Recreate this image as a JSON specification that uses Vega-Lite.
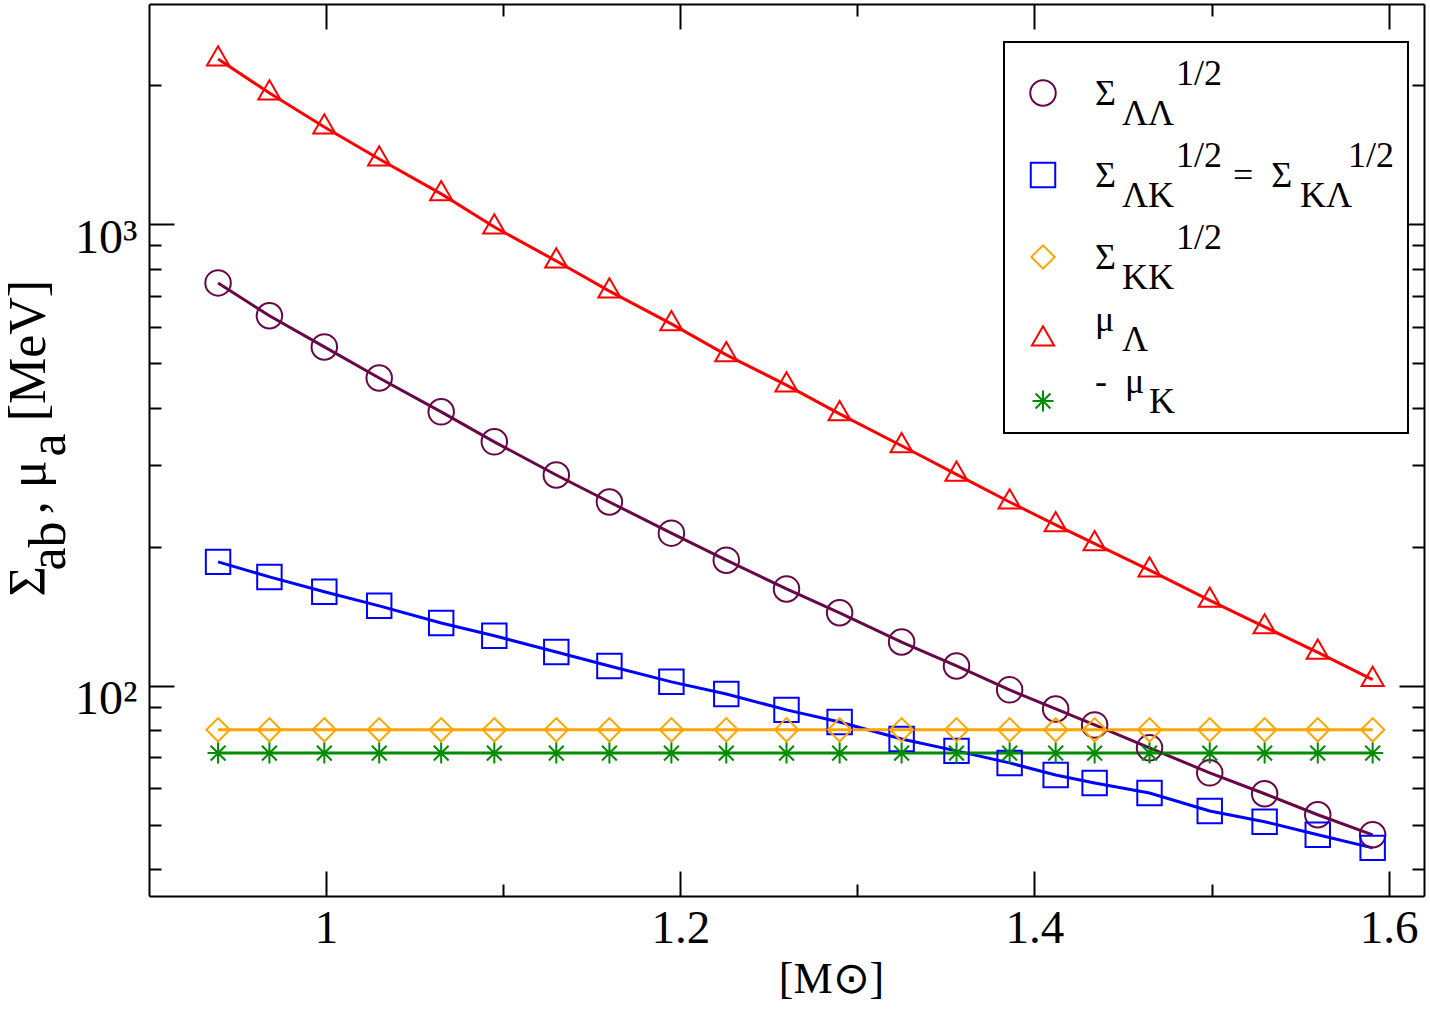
{
  "$schema": "https://vega.github.io/schema/vega-lite/v6.json",
  "width": 1275,
  "height": 892,
  "autosize": {"type": "none"},
  "padding": {"left": 149, "top": 4, "right": 6, "bottom": 117},
  "background": "white",
  "config": {
    "view": {"stroke": null},
    "style": {"guide-label": {"lineHeight": 20}},
    "axis": {
      "grid": false,
      "domainColor": "black",
      "domainWidth": 2,
      "tickColor": "black",
      "tickWidth": 2,
      "labelFont": "Liberation Serif",
      "titleFont": "Liberation Serif",
      "labelColor": "black",
      "titleColor": "black",
      "titleFontWeight": "normal",
      "labelFlush": false,
      "labelOverlap": false,
      "labelBound": false
    },
    "legend": {
      "strokeColor": "black",
      "strokeWidth": 2,
      "fillColor": "white",
      "padding": 13,
      "titleFontSize": 12,
      "titlePadding": 8,
      "labelFont": "Liberation Serif",
      "labelFontSize": 36,
      "labelColor": "black",
      "labelBaseline": "bottom",
      "labelLimit": 2000,
      "symbolStrokeWidth": 2,
      "symbolOffset": 8,
      "labelOffset": 34,
      "rowPadding": 6
    }
  },
  "data": {
    "values": [
      {"s": "LL", "m": 0.939, "v": 746}, {"s": "LL", "m": 0.968, "v": 633}, {"s": "LL", "m": 0.999, "v": 542}, {"s": "LL", "m": 1.03, "v": 464}, {"s": "LL", "m": 1.065, "v": 392}, {"s": "LL", "m": 1.095, "v": 337.5}, {"s": "LL", "m": 1.13, "v": 286}, {"s": "LL", "m": 1.16, "v": 250}, {"s": "LL", "m": 1.195, "v": 214}, {"s": "LL", "m": 1.226, "v": 187}, {"s": "LL", "m": 1.26, "v": 162}, {"s": "LL", "m": 1.29, "v": 143.8}, {"s": "LL", "m": 1.325, "v": 124.3}, {"s": "LL", "m": 1.356, "v": 110.3}, {"s": "LL", "m": 1.386, "v": 97.9}, {"s": "LL", "m": 1.412, "v": 89}, {"s": "LL", "m": 1.434, "v": 82.2}, {"s": "LL", "m": 1.465, "v": 73.3}, {"s": "LL", "m": 1.499, "v": 64.7}, {"s": "LL", "m": 1.53, "v": 58.3}, {"s": "LL", "m": 1.56, "v": 52.5}, {"s": "LL", "m": 1.591, "v": 47.5},
      {"s": "LK", "m": 0.939, "v": 185.4}, {"s": "LK", "m": 0.968, "v": 172}, {"s": "LK", "m": 0.999, "v": 159.7}, {"s": "LK", "m": 1.03, "v": 148.9}, {"s": "LK", "m": 1.065, "v": 136.7}, {"s": "LK", "m": 1.095, "v": 128.2}, {"s": "LK", "m": 1.13, "v": 118.3}, {"s": "LK", "m": 1.16, "v": 110.3}, {"s": "LK", "m": 1.195, "v": 101.9}, {"s": "LK", "m": 1.226, "v": 95.9}, {"s": "LK", "m": 1.26, "v": 88.6}, {"s": "LK", "m": 1.29, "v": 83.4}, {"s": "LK", "m": 1.325, "v": 76.6}, {"s": "LK", "m": 1.356, "v": 72.2}, {"s": "LK", "m": 1.386, "v": 68}, {"s": "LK", "m": 1.412, "v": 64}, {"s": "LK", "m": 1.434, "v": 61.5}, {"s": "LK", "m": 1.465, "v": 58.5}, {"s": "LK", "m": 1.499, "v": 53.5}, {"s": "LK", "m": 1.53, "v": 50.7}, {"s": "LK", "m": 1.56, "v": 47.5}, {"s": "LK", "m": 1.591, "v": 44.5},
      {"s": "KK", "m": 0.939, "v": 80.2}, {"s": "KK", "m": 0.968, "v": 80.2}, {"s": "KK", "m": 0.999, "v": 80.2}, {"s": "KK", "m": 1.03, "v": 80.2}, {"s": "KK", "m": 1.065, "v": 80.2}, {"s": "KK", "m": 1.095, "v": 80.2}, {"s": "KK", "m": 1.13, "v": 80.2}, {"s": "KK", "m": 1.16, "v": 80.2}, {"s": "KK", "m": 1.195, "v": 80.2}, {"s": "KK", "m": 1.226, "v": 80.2}, {"s": "KK", "m": 1.26, "v": 80.2}, {"s": "KK", "m": 1.29, "v": 80.2}, {"s": "KK", "m": 1.325, "v": 80.2}, {"s": "KK", "m": 1.356, "v": 80.2}, {"s": "KK", "m": 1.386, "v": 80.2}, {"s": "KK", "m": 1.412, "v": 80.2}, {"s": "KK", "m": 1.434, "v": 80.2}, {"s": "KK", "m": 1.465, "v": 80.2}, {"s": "KK", "m": 1.499, "v": 80.2}, {"s": "KK", "m": 1.53, "v": 80.2}, {"s": "KK", "m": 1.56, "v": 80.2}, {"s": "KK", "m": 1.591, "v": 80.2},
      {"s": "mL", "m": 0.939, "v": 2280}, {"s": "mL", "m": 0.968, "v": 1924}, {"s": "mL", "m": 0.999, "v": 1624}, {"s": "mL", "m": 1.03, "v": 1384}, {"s": "mL", "m": 1.065, "v": 1163}, {"s": "mL", "m": 1.095, "v": 986}, {"s": "mL", "m": 1.13, "v": 832}, {"s": "mL", "m": 1.16, "v": 716}, {"s": "mL", "m": 1.195, "v": 608}, {"s": "mL", "m": 1.226, "v": 521}, {"s": "mL", "m": 1.26, "v": 448}, {"s": "mL", "m": 1.29, "v": 388}, {"s": "mL", "m": 1.325, "v": 331}, {"s": "mL", "m": 1.356, "v": 287}, {"s": "mL", "m": 1.386, "v": 250}, {"s": "mL", "m": 1.412, "v": 223}, {"s": "mL", "m": 1.434, "v": 203}, {"s": "mL", "m": 1.465, "v": 178}, {"s": "mL", "m": 1.499, "v": 153}, {"s": "mL", "m": 1.53, "v": 134}, {"s": "mL", "m": 1.56, "v": 118}, {"s": "mL", "m": 1.591, "v": 103},
      {"s": "mK", "m": 0.939, "v": 71.4}, {"s": "mK", "m": 0.968, "v": 71.4}, {"s": "mK", "m": 0.999, "v": 71.4}, {"s": "mK", "m": 1.03, "v": 71.4}, {"s": "mK", "m": 1.065, "v": 71.4}, {"s": "mK", "m": 1.095, "v": 71.4}, {"s": "mK", "m": 1.13, "v": 71.4}, {"s": "mK", "m": 1.16, "v": 71.4}, {"s": "mK", "m": 1.195, "v": 71.4}, {"s": "mK", "m": 1.226, "v": 71.4}, {"s": "mK", "m": 1.26, "v": 71.4}, {"s": "mK", "m": 1.29, "v": 71.4}, {"s": "mK", "m": 1.325, "v": 71.4}, {"s": "mK", "m": 1.356, "v": 71.4}, {"s": "mK", "m": 1.386, "v": 71.4}, {"s": "mK", "m": 1.412, "v": 71.4}, {"s": "mK", "m": 1.434, "v": 71.4}, {"s": "mK", "m": 1.465, "v": 71.4}, {"s": "mK", "m": 1.499, "v": 71.4}, {"s": "mK", "m": 1.53, "v": 71.4}, {"s": "mK", "m": 1.56, "v": 71.4}, {"s": "mK", "m": 1.591, "v": 71.4}
    ]
  },
  "layer": [
    {
      "mark": {"type": "line", "strokeWidth": 3},
      "encoding": {
        "x": {
          "field": "m", "type": "quantitative",
          "scale": {"domain": [0.9, 1.62], "nice": false, "zero": false},
          "axis": {
            "orient": "bottom",
            "values": [1, 1.1, 1.2, 1.3, 1.4, 1.5, 1.6],
            "tickSize": {"condition": {"test": "datum.value == 1 || datum.value == 1.2 || datum.value == 1.4 || datum.value == 1.6", "value": -25}, "value": -12},
            "labelExpr": "datum.value == 1 ? '1' : datum.value == 1.2 ? '1.2' : datum.value == 1.4 ? '1.4' : datum.value == 1.6 ? '1.6' : ''",
            "labelFontSize": 47,
            "labelPadding": 34,
            "title": "[M⊙]",
            "titleFontSize": 44,
            "titleX": 682,
            "titleY": 96,
            "titleBaseline": "alphabetic",
            "titleAlign": "center"
          }
        },
        "y": {
          "field": "v", "type": "quantitative",
          "scale": {"type": "log", "domain": [35, 3000], "nice": false},
          "axis": {
            "orient": "left",
            "values": [40, 50, 60, 70, 80, 90, 100, 200, 300, 400, 500, 600, 700, 800, 900, 1000, 2000],
            "tickSize": {"condition": {"test": "datum.value == 100 || datum.value == 1000", "value": -25}, "value": -12},
            "labelExpr": "datum.value == 100 ? '10²' : datum.value == 1000 ? '10³' : ''",
            "labelFontSize": 48,
            "labelPadding": 37,
            "labelOffset": 14,
            "title": ["Σ\u00a0\u00a0\u00a0\u00a0,\u00a0μ\u00a0\u00a0\u00a0[MeV]", "\u200b\u00a0\u00a0ab\u00a0\u00a0\u00a0\u00a0\u00a0a"],
            "titleFontSize": 52,
            "titleLineHeight": 20,
            "titleAngle": -90,
            "titleAlign": "left",
            "titleBaseline": "top",
            "titleX": -146,
            "titleY": 592
          }
        },
        "color": {
          "field": "s", "type": "nominal",
          "scale": {"domain": ["LL", "LK", "KK", "mL", "mK"], "range": ["#670748", "#0000ff", "#ffa500", "#ff0000", "#008b00"]},
          "legend": {
            "orient": "none", "legendX": 855, "legendY": 38, "title": "\u200b",
            "labelExpr": "datum.label == 'LL' ? ['\u200b\u00a0\u00a0\u00a0\u00a0\u00a0\u00a0\u00a0\u00a0\u00a01/2', 'Σ', '\u200b\u00a0\u00a0\u00a0ΛΛ'] : datum.label == 'LK' ? ['\u200b\u00a0\u00a0\u00a0\u00a0\u00a0\u00a0\u00a0\u00a0\u00a01/2\u00a0\u00a0\u00a0\u00a0\u00a0\u00a0\u00a0\u00a0\u00a0\u00a0\u00a0\u00a0\u00a0\u00a01/2', 'Σ\u00a0\u00a0\u00a0\u00a0\u00a0\u00a0\u00a0\u00a0\u00a0\u00a0\u00a0\u00a0\u00a0=\u00a0\u00a0Σ', '\u200b\u00a0\u00a0\u00a0ΛK\u00a0\u00a0\u00a0\u00a0\u00a0\u00a0\u00a0\u00a0\u00a0\u00a0\u00a0\u00a0\u00a0\u00a0KΛ'] : datum.label == 'KK' ? ['\u200b\u00a0\u00a0\u00a0\u00a0\u00a0\u00a0\u00a0\u00a0\u00a01/2', 'Σ', '\u200b\u00a0\u00a0\u00a0KK'] : datum.label == 'mL' ? ['μ', '\u200b\u00a0\u00a0\u00a0Λ'] : ['-\u00a0\u00a0μ', '\u200b\u00a0\u00a0\u00a0\u00a0\u00a0\u00a0K']"
          }
        }
      }
    },
    {
      "mark": {"type": "point", "filled": false, "strokeWidth": 2, "opacity": 1},
      "encoding": {
        "x": {
          "field": "m", "type": "quantitative",
          "scale": {"domain": [0.9, 1.62], "nice": false, "zero": false},
          "axis": {
            "orient": "top",
            "values": [1, 1.1, 1.2, 1.3, 1.4, 1.5, 1.6],
            "tickSize": {"condition": {"test": "datum.value == 1 || datum.value == 1.2 || datum.value == 1.4 || datum.value == 1.6", "value": -25}, "value": -12},
            "labels": false,
            "title": null
          }
        },
        "y": {
          "field": "v", "type": "quantitative",
          "scale": {"type": "log", "domain": [35, 3000], "nice": false},
          "axis": {
            "orient": "right",
            "values": [40, 50, 60, 70, 80, 90, 100, 200, 300, 400, 500, 600, 700, 800, 900, 1000, 2000],
            "tickSize": {"condition": {"test": "datum.value == 100 || datum.value == 1000", "value": -25}, "value": -12},
            "labels": false,
            "title": null
          }
        },
        "color": {
          "field": "s", "type": "nominal",
          "scale": {"domain": ["LL", "LK", "KK", "mL", "mK"], "range": ["#670748", "#0000ff", "#ffa500", "#ff0000", "#008b00"]},
          "legend": {
            "orient": "none", "legendX": 855, "legendY": 38, "title": "\u200b",
            "labelExpr": "datum.label == 'LL' ? ['\u200b\u00a0\u00a0\u00a0\u00a0\u00a0\u00a0\u00a0\u00a0\u00a01/2', 'Σ', '\u200b\u00a0\u00a0\u00a0ΛΛ'] : datum.label == 'LK' ? ['\u200b\u00a0\u00a0\u00a0\u00a0\u00a0\u00a0\u00a0\u00a0\u00a01/2\u00a0\u00a0\u00a0\u00a0\u00a0\u00a0\u00a0\u00a0\u00a0\u00a0\u00a0\u00a0\u00a0\u00a01/2', 'Σ\u00a0\u00a0\u00a0\u00a0\u00a0\u00a0\u00a0\u00a0\u00a0\u00a0\u00a0\u00a0\u00a0=\u00a0\u00a0Σ', '\u200b\u00a0\u00a0\u00a0ΛK\u00a0\u00a0\u00a0\u00a0\u00a0\u00a0\u00a0\u00a0\u00a0\u00a0\u00a0\u00a0\u00a0\u00a0KΛ'] : datum.label == 'KK' ? ['\u200b\u00a0\u00a0\u00a0\u00a0\u00a0\u00a0\u00a0\u00a0\u00a01/2', 'Σ', '\u200b\u00a0\u00a0\u00a0KK'] : datum.label == 'mL' ? ['μ', '\u200b\u00a0\u00a0\u00a0Λ'] : ['-\u00a0\u00a0μ', '\u200b\u00a0\u00a0\u00a0\u00a0\u00a0\u00a0K']"
          }
        },
        "shape": {
          "field": "s", "type": "nominal",
          "scale": {"domain": ["LL", "LK", "KK", "mL", "mK"], "range": ["circle", "square", "diamond", "M0,-1.1547L1,0.5774L-1,0.5774Z", "M0,-1L0,1M-1,0L1,0M-0.7071,-0.7071L0.7071,0.7071M-0.7071,0.7071L0.7071,-0.7071"]},
          "legend": {
            "orient": "none", "legendX": 855, "legendY": 38, "title": "\u200b",
            "labelExpr": "datum.label == 'LL' ? ['\u200b\u00a0\u00a0\u00a0\u00a0\u00a0\u00a0\u00a0\u00a0\u00a01/2', 'Σ', '\u200b\u00a0\u00a0\u00a0ΛΛ'] : datum.label == 'LK' ? ['\u200b\u00a0\u00a0\u00a0\u00a0\u00a0\u00a0\u00a0\u00a0\u00a01/2\u00a0\u00a0\u00a0\u00a0\u00a0\u00a0\u00a0\u00a0\u00a0\u00a0\u00a0\u00a0\u00a0\u00a01/2', 'Σ\u00a0\u00a0\u00a0\u00a0\u00a0\u00a0\u00a0\u00a0\u00a0\u00a0\u00a0\u00a0\u00a0=\u00a0\u00a0Σ', '\u200b\u00a0\u00a0\u00a0ΛK\u00a0\u00a0\u00a0\u00a0\u00a0\u00a0\u00a0\u00a0\u00a0\u00a0\u00a0\u00a0\u00a0\u00a0KΛ'] : datum.label == 'KK' ? ['\u200b\u00a0\u00a0\u00a0\u00a0\u00a0\u00a0\u00a0\u00a0\u00a01/2', 'Σ', '\u200b\u00a0\u00a0\u00a0KK'] : datum.label == 'mL' ? ['μ', '\u200b\u00a0\u00a0\u00a0Λ'] : ['-\u00a0\u00a0μ', '\u200b\u00a0\u00a0\u00a0\u00a0\u00a0\u00a0K']"
          }
        },
        "size": {
          "field": "s", "type": "nominal",
          "scale": {"domain": ["LL", "LK", "KK", "mL", "mK"], "range": [650, 441, 529, 625, 650]},
          "legend": {
            "orient": "none", "legendX": 855, "legendY": 38, "title": "\u200b",
            "labelExpr": "datum.label == 'LL' ? ['\u200b\u00a0\u00a0\u00a0\u00a0\u00a0\u00a0\u00a0\u00a0\u00a01/2', 'Σ', '\u200b\u00a0\u00a0\u00a0ΛΛ'] : datum.label == 'LK' ? ['\u200b\u00a0\u00a0\u00a0\u00a0\u00a0\u00a0\u00a0\u00a0\u00a01/2\u00a0\u00a0\u00a0\u00a0\u00a0\u00a0\u00a0\u00a0\u00a0\u00a0\u00a0\u00a0\u00a0\u00a01/2', 'Σ\u00a0\u00a0\u00a0\u00a0\u00a0\u00a0\u00a0\u00a0\u00a0\u00a0\u00a0\u00a0\u00a0=\u00a0\u00a0Σ', '\u200b\u00a0\u00a0\u00a0ΛK\u00a0\u00a0\u00a0\u00a0\u00a0\u00a0\u00a0\u00a0\u00a0\u00a0\u00a0\u00a0\u00a0\u00a0KΛ'] : datum.label == 'KK' ? ['\u200b\u00a0\u00a0\u00a0\u00a0\u00a0\u00a0\u00a0\u00a0\u00a01/2', 'Σ', '\u200b\u00a0\u00a0\u00a0KK'] : datum.label == 'mL' ? ['μ', '\u200b\u00a0\u00a0\u00a0Λ'] : ['-\u00a0\u00a0μ', '\u200b\u00a0\u00a0\u00a0\u00a0\u00a0\u00a0K']"
          }
        }
      }
    }
  ],
  "resolve": {"axis": {"x": "independent", "y": "independent"}}
}
